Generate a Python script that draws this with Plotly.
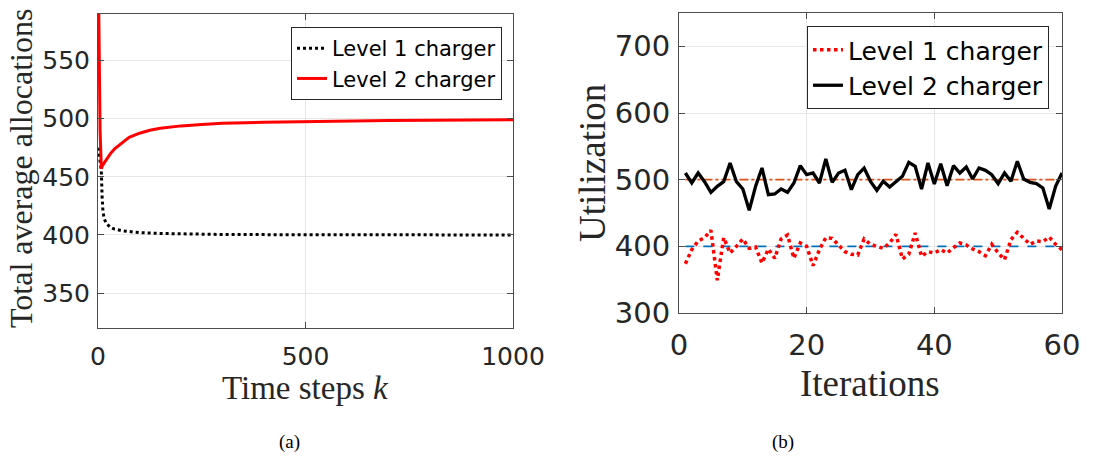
import plotly.graph_objects as go

# ---------------- Data: panel (a) ----------------
k_level2 = [1, 3, 5, 8, 10, 15, 20, 30, 40, 50, 60, 75, 100, 125, 150, 200, 250, 300,
            400, 500, 600, 700, 800, 900, 1000]
alloc_level2 = [620, 540, 490, 457, 459, 462, 465, 470, 474, 477, 480, 484, 487.5, 490,
                491.8, 493.8, 495, 496, 497, 497.6, 498, 498.4, 498.7, 498.9, 499.1]
k_level1 = [1, 4, 8, 10, 12, 15, 20, 30, 40, 60, 80, 100, 150, 200, 300, 500, 700, 1000]
alloc_level1 = [475, 466, 455, 432, 420, 414, 410, 406.5, 405, 403.5, 402.5, 402, 401.3,
                400.8, 400.4, 400.2, 400.1, 400]

# ---------------- Data: panel (b) ----------------
iterations = list(range(1, 61))
util_level2 = [510, 495, 510, 497, 481, 490, 497, 525, 497, 486,
               454, 490, 517.5, 477.5, 478.5, 486, 481, 495, 521, 507.5,
               510, 495, 531, 496, 510, 514, 485, 507.5, 517.5, 497.5,
               484, 497.5, 489, 497.5, 505, 526, 520, 486, 525, 493.5,
               524, 491, 521, 510, 519, 501, 517.5, 514, 507.5, 494,
               510, 497.5, 527.5, 501, 496, 494, 487.5, 456, 490, 510]
util_level1 = [374, 395, 408, 413, 424, 349, 413, 390, 400, 411,
               397, 399, 375, 396, 382, 411, 417, 382, 405, 400,
               371, 395, 413, 412, 402, 392, 388, 387, 411, 403,
               400, 397, 405, 418, 381, 388, 420, 385, 392, 390,
               395, 390, 398, 405, 402, 396, 392, 386, 403, 390,
               380, 410, 421, 412, 403, 408, 407, 414, 403, 395]
ref_x = [1, 60]
ref_level1 = [400, 400]
ref_level2 = [500, 500]

W, H = 1115, 462
TXT = "#262626"
SANS = "DejaVu Sans, Liberation Sans, Arial, sans-serif"
SERIF = "Liberation Serif, Times New Roman, serif"


def px_x(p):
    return p / W


def px_y(p):
    return 1 - p / H


fig = go.Figure()

# panel (a)
fig.add_trace(go.Scatter(x=k_level1, y=alloc_level1, mode="lines", name="Level 1 charger",
                         line=dict(color="black", width=3, dash="dot"),
                         xaxis="x", yaxis="y", legend="legend"))
fig.add_trace(go.Scatter(x=k_level2, y=alloc_level2, mode="lines", name="Level 2 charger",
                         line=dict(color="#FF0000", width=3),
                         xaxis="x", yaxis="y", legend="legend"))

# panel (b)
fig.add_trace(go.Scatter(x=ref_x, y=ref_level2, mode="lines", showlegend=False,
                         line=dict(color="#D95319", width=1.6, dash="dashdot"),
                         xaxis="x2", yaxis="y2"))
fig.add_trace(go.Scatter(x=ref_x, y=ref_level1, mode="lines", showlegend=False,
                         line=dict(color="#0072BD", width=1.6, dash="dash"),
                         xaxis="x2", yaxis="y2"))
fig.add_trace(go.Scatter(x=iterations, y=util_level1, mode="lines", name="Level 1 charger",
                         line=dict(color="#FF0000", width=3.5, dash="dot"),
                         xaxis="x2", yaxis="y2", legend="legend2"))
fig.add_trace(go.Scatter(x=iterations, y=util_level2, mode="lines", name="Level 2 charger",
                         line=dict(color="black", width=3.3),
                         xaxis="x2", yaxis="y2", legend="legend2"))

axis_common = dict(showline=True, linecolor="#4D4D4D", linewidth=1, mirror="ticks",
                   ticks="inside", ticklen=6, tickcolor="#4D4D4D",
                   showgrid=True, gridcolor="#E6E6E6", gridwidth=1, zeroline=False,
                   color=TXT, automargin=False)

fig.update_layout(
    width=W, height=H, autosize=False,
    margin=dict(l=0, r=0, t=0, b=0, autoexpand=False),
    paper_bgcolor="white", plot_bgcolor="white",
    showlegend=True,
    xaxis=dict(axis_common, domain=[px_x(98), px_x(513)], range=[0, 1000],
               tickvals=[0, 500, 1000], anchor="y", ticklabelstandoff=6,
               tickfont=dict(family=SANS, size=25, color=TXT)),
    yaxis=dict(axis_common, domain=[px_y(328), px_y(14)], range=[320, 590],
               tickvals=[350, 400, 450, 500, 550], anchor="x", ticklabelstandoff=2,
               tickfont=dict(family=SANS, size=25, color=TXT)),
    xaxis2=dict(axis_common, domain=[px_x(679), px_x(1062)], range=[0, 60],
                tickvals=[0, 20, 40, 60], anchor="y2", ticklabelstandoff=6,
                tickfont=dict(family=SANS, size=29, color=TXT)),
    yaxis2=dict(axis_common, domain=[px_y(313), px_y(13)], range=[300, 750],
                tickvals=[300, 400, 500, 600, 700], anchor="x2", ticklabelstandoff=2,
                tickfont=dict(family=SANS, size=29, color=TXT)),
    legend=dict(x=px_x(502), xanchor="right", y=px_y(27), yanchor="top",
                bgcolor="white", bordercolor="#262626", borderwidth=1,
                font=dict(family=SANS, size=21, color="black"),
                tracegroupgap=0, itemwidth=30),
    legend2=dict(x=px_x(1049), xanchor="right", y=px_y(26), yanchor="top",
                 bgcolor="white", bordercolor="#262626", borderwidth=1,
                 font=dict(family=SANS, size=25, color="black"),
                 tracegroupgap=0, itemwidth=30),
)

annots = [
    dict(text="Time steps <i>k</i>", x=px_x(305.5), y=px_y(388), size=33),
    dict(text="Total average allocations", x=px_x(21), y=px_y(169), size=32, angle=-90),
    dict(text="Iterations", x=px_x(870), y=px_y(383), size=37),
    dict(text="Utilization", x=px_x(592), y=px_y(163), size=37, angle=-90),
    dict(text="(a)", x=px_x(289), y=px_y(442), size=19, color="black"),
    dict(text="(b)", x=px_x(783), y=px_y(442), size=19, color="black"),
]
for a in annots:
    fig.add_annotation(text=a["text"], x=a["x"], y=a["y"], xref="paper", yref="paper",
                       xanchor="center", yanchor="middle", showarrow=False,
                       textangle=a.get("angle", 0),
                       font=dict(family=SERIF, size=a["size"], color=a.get("color", TXT)))

fig.write_html(
    "out.html",
    config={"responsive": False, "displayModeBar": False},
    post_script="document.documentElement.style.margin='0';document.body.style.margin='0';"
                "document.body.style.overflow='hidden';",
)
